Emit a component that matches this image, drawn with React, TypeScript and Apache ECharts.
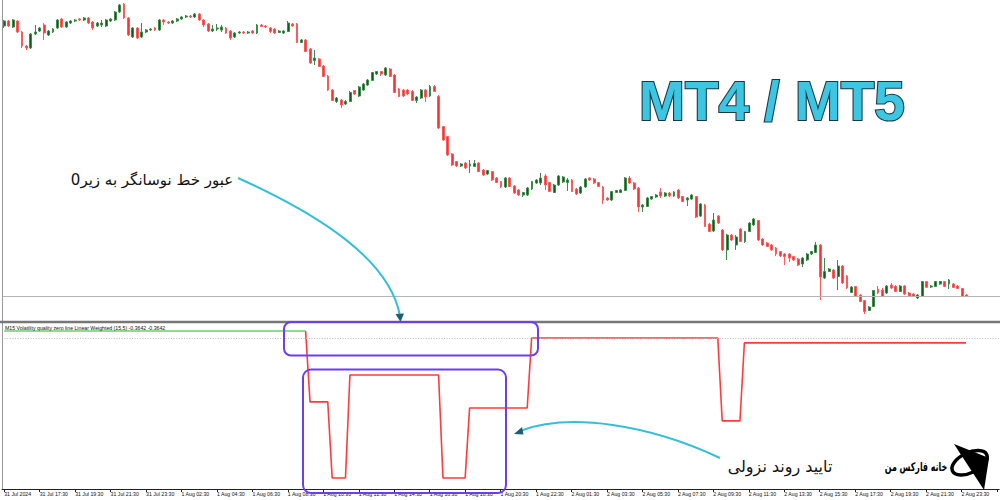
import React, { useEffect, useRef } from "react";
import * as echarts from "echarts";

// ---------- DATA (M15 candles) ----------
const opens = [
  294, 299, 293, 299, 288, 274, 272, 286, 289, 295, 285, 288, 292, 301, 293, 297, 299, 301, 300, 302,
  298, 294, 295, 294, 299, 300, 308, 316, 302, 283, 292, 283, 288, 290, 292, 290, 300, 298, 297, 299,
  301, 303, 304, 303, 306, 300, 296, 289, 291, 290, 292, 289, 283, 287, 288, 287, 289, 287, 295, 294,
  292, 291, 287.5, 287, 288.5, 296, 296, 277.5, 280, 271, 259.5, 261, 254, 244, 230, 218.5, 220, 216, 218.5, 229.5,
  224, 230, 235, 239.5, 246, 248.5, 245, 251, 245, 231, 230, 230, 228.5, 219.5, 222, 230, 224, 233.5, 223.5, 193.5,
  183.5, 166, 158.5, 154, 157, 154, 153.5, 157, 150, 146, 148.5, 142, 138.5, 133, 142, 134, 130, 125, 125, 131,
  137, 137, 144, 137.5, 127.5, 135, 138, 137.5, 140, 131, 127, 133, 142, 141, 137.5, 133, 122, 120, 127.5, 127.5,
  129.5, 142, 137, 132, 113, 113.5, 121, 123, 128, 124, 127, 124, 130, 123.5, 120, 121, 123.5, 104, 115, 96,
  89, 104, 90, 70, 85, 75, 91, 78.5, 88.5, 95, 99.5, 81, 77, 75, 72, 68.5, 66, 66, 63.5, 61,
  56, 60, 66, 67.5, 75, 42, 48.5, 50, 43.5, 54, 44, 27.5, 33.5, 25, 19.5, 9.5, 13.5, 31, 30, 27,
  35, 33.5, 28.5, 34, 27, 26, 22, 24, 38.5, 33, 33.5, 36, 38.5, 36, 36, 34, 31.5, 25
];
const closes = [
  299, 294, 300, 288, 274, 272, 286, 288, 292, 287, 289, 291, 300, 293, 298, 299, 300, 300, 302, 297,
  292, 297, 297, 300, 301, 308, 315, 302, 285, 292, 282, 288, 290, 291, 290, 300, 298, 297, 299, 301,
  303, 304, 303, 306, 300, 295, 289, 291, 292, 293, 287, 282, 287, 288, 287, 288, 287, 295, 293.5, 293,
  288.5, 287, 289, 289, 297, 294, 277.5, 280, 268.5, 257, 262, 253.5, 243.5, 230, 219.5, 222, 215, 218.5, 227.5, 226,
  233, 236, 240, 247.5, 248.5, 246, 252, 243.5, 227.5, 223.5, 224, 226, 219.5, 223, 230, 223, 233.5, 228.5, 192, 180,
  165, 155, 154, 156, 152, 156, 156.5, 148.5, 145, 149.5, 140, 137.5, 133, 142, 133.5, 127, 125, 127.5, 132, 138.5,
  140, 142, 135, 128.5, 135, 144, 143, 140, 128.5, 126, 133, 141, 140, 137, 133.5, 120, 120, 128.5, 129.5, 130,
  142, 137, 131, 113, 115, 122, 123.5, 125, 124, 127, 124, 128, 122, 118.5, 122, 125, 103, 116, 93.5, 88.5,
  100, 97, 70, 85, 80, 83, 78.5, 88.5, 97, 101, 80, 75, 73.5, 70, 66, 64, 63.5, 62, 60, 55,
  62, 66, 68.5, 75, 43, 48.5, 51, 42, 54, 37, 32, 33, 23.5, 18.5, 8.5, 13, 29.5, 27, 23.5, 34,
  32, 28.5, 34, 26, 24, 23.5, 25, 38.5, 32.7, 34, 38.5, 38.5, 33.5, 40, 32.5, 31.5, 23.5, 23.5
];
const lows = [
  292, 293, 292, 287, 272, 270, 271, 285, 288, 280, 284, 287, 291, 292, 292, 296, 298, 299, 299, 296,
  290, 293, 293, 293, 298, 299, 307, 301, 284, 282, 281, 282, 287, 289, 289, 289, 295, 296, 296, 298,
  300, 302, 302, 302, 299, 293, 288, 288, 289, 288, 286, 280, 282, 286, 286, 286, 286, 286, 293, 292,
  287, 286, 287, 286, 288, 293, 277, 277, 268, 256, 255, 253, 243, 229, 219, 217, 212, 215, 218, 225,
  223, 229, 234, 239, 245, 244, 244, 243, 227, 223, 223, 225, 219, 217, 221, 218, 223, 228, 191, 179,
  164, 154, 153, 153, 151, 147, 153, 148, 144, 145, 139, 137, 132, 132, 133, 126, 124, 123, 124, 130,
  136, 135, 130, 128, 127, 134, 137, 129, 128, 125, 126, 132, 139, 136, 133, 116, 119, 119, 127, 127,
  129, 136, 130, 108, 108, 113, 120, 122, 122, 123, 123, 123, 121, 118, 114, 120, 102, 103, 93, 88,
  88, 96, 69, 60, 79, 70, 78, 77, 88, 94, 79, 74, 73, 69, 64, 63, 55, 58, 59, 54,
  53, 59, 65, 67, 20, 41, 48, 41, 30, 36, 31, 27, 23, 18, 6, 9, 13, 26, 23, 26,
  31, 28, 28, 25, 23, 23, 21, 23, 32, 32, 33, 35, 33, 31, 32, 31, 23, 23
];
const highs = [
  300, 300, 301, 300, 289, 275, 287, 295, 293, 297, 290, 292, 301, 302, 299, 300, 301, 302, 303, 303,
  299, 298, 300, 301, 302, 309, 316, 317, 303, 293, 293, 297, 291, 292, 293, 301, 301, 299, 300, 302,
  304, 305, 305, 307, 307, 301, 297, 295, 296, 295, 293, 290, 288, 289, 289, 289, 290, 296, 296, 295,
  293, 292, 290, 290, 299, 297, 297, 281, 281, 272, 270, 262, 255, 245, 231, 223, 221, 220, 229, 230,
  234, 237, 241, 248, 249, 249, 253, 252, 246, 232, 231, 231, 230, 224, 231, 231, 235, 235, 225, 194,
  184, 167, 159, 157, 158, 160, 160, 158, 151, 150, 149, 143, 139, 143, 143, 135, 131, 128, 133, 139,
  141, 147, 146, 138, 136, 145, 144, 142, 141, 132, 134, 142, 143, 142, 138, 134, 123, 129, 130, 131,
  143, 144, 138, 133, 116, 123, 124, 126, 132, 128, 128, 129, 131, 124, 123, 126, 124, 117, 116, 97,
  107, 105, 91, 86, 86, 85, 92, 89, 98, 102, 100, 82, 78, 76, 73, 69, 67, 67, 64, 62,
  63, 67, 69, 78, 76, 62, 52, 51, 60, 55, 45, 34, 34, 26, 20, 14, 30, 34, 32, 35,
  37, 35, 35, 35, 28, 27, 26, 39, 39, 35, 39, 39, 39, 41, 37, 35, 32, 26
];

// Volatility Quality (zero line, LWMA 15,5) values, one per candle
const vqValues = [
  0.51, 0.51, 0.51, 0.51, 0.51, 0.51, 0.51, 0.51, 0.51, 0.51, 0.51, 0.51, 0.51, 0.51, 0.51, 0.51, 0.51, 0.51, 0.51, 0.51,
  0.51, 0.51, 0.51, 0.51, 0.51, 0.51, 0.51, 0.51, 0.51, 0.51, 0.51, 0.51, 0.51, 0.51, 0.51, 0.51, 0.51, 0.51, 0.51, 0.51,
  0.51, 0.51, 0.51, 0.51, 0.51, 0.51, 0.51, 0.51, 0.51, 0.51, 0.51, 0.51, 0.51, 0.51, 0.51, 0.51, 0.51, 0.51, 0.51, 0.51,
  0.51, 0.51, 0.51, 0.51, 0.51, 0.51, 0.51, 0.51, 0.51, -4.68, -4.68, -4.68, -4.68, -4.68, -10.24, -10.24, -10.24, -10.24, -2.71, -2.71,
  -2.71, -2.71, -2.71, -2.71, -2.71, -2.71, -2.71, -2.71, -2.71, -2.71, -2.71, -2.71, -2.71, -2.71, -2.71, -2.71, -2.71, -2.71, -2.71, -10.24,
  -10.24, -10.24, -10.24, -10.24, -10.24, -5.12, -5.12, -5.12, -5.12, -5.12, -5.12, -5.12, -5.12, -5.12, -5.12, -5.12, -5.12, -5.12, -5.12, 0,
  0, 0, 0, 0, 0, 0, 0, 0, 0, 0, 0, 0, 0, 0, 0, 0, 0, 0, 0, 0,
  0, 0, 0, 0, 0, 0, 0, 0, 0, 0, 0, 0, 0, 0, 0, 0, 0, 0, 0, 0,
  0, 0, -6.07, -6.07, -6.07, -6.07, -6.07, -0.3642, -0.3642, -0.3642, -0.3642, -0.3642, -0.3642, -0.3642, -0.3642, -0.3642, -0.3642, -0.3642, -0.3642, -0.3642,
  -0.3642, -0.3642, -0.3642, -0.3642, -0.3642, -0.3642, -0.3642, -0.3642, -0.3642, -0.3642, -0.3642, -0.3642, -0.3642, -0.3642, -0.3642, -0.3642, -0.3642, -0.3642, -0.3642, -0.3642,
  -0.3642, -0.3642, -0.3642, -0.3642, -0.3642, -0.3642, -0.3642, -0.3642, -0.3642, -0.3642, -0.3642, -0.3642, -0.3642, -0.3642, -0.3642, -0.3642, -0.3642, -0.3642
];
const vqTurnIndex = 68; // last bar of the green (rising) colour

const tickLabels = [
  "31 Jul 2024", "31 Jul 17:30", "31 Jul 19:30", "31 Jul 21:30", "31 Jul 23:30",
  "1 Aug 02:30", "1 Aug 04:30", "1 Aug 06:30", "1 Aug 08:30", "1 Aug 10:30",
  "1 Aug 12:30", "1 Aug 14:30", "1 Aug 16:30", "1 Aug 18:30", "1 Aug 20:30",
  "1 Aug 22:30", "2 Aug 01:30", "2 Aug 03:30", "2 Aug 05:30", "2 Aug 07:30",
  "2 Aug 09:30", "2 Aug 11:30", "2 Aug 13:30", "2 Aug 15:30", "2 Aug 17:30",
  "2 Aug 19:30", "2 Aug 21:30", "2 Aug 23:30"
];
const barsPerLabel = 8;
const emptyBarsRight = 7;

const indicatorTitle = "M15 Volatility quality zero line Linear Weighted (15,5) -0.3642 -0.3642";
const titleBig = "MT4 / MT5";
const noteCross = "عبور خط نوسانگر به زیر0";
const noteConfirm = "تایید روند نزولی";
const brandName = "خانه فارکس من";

export default function App() {
  const ref = useRef<HTMLDivElement>(null);

  useEffect(() => {
    if (!ref.current) return;
    const chart = echarts.init(ref.current, null, { renderer: "svg" });

    const slotCount = opens.length + emptyBarsRight;
    const slots = Array.from({ length: slotCount }, (_, i) => String(i));
    const candles = opens.map((o, i) => [o, closes[i], lows[i], highs[i]]);
    const greenData = vqValues.map((v, i) => (i <= vqTurnIndex ? v : null));
    const redData = vqValues.map((v, i) => (i >= vqTurnIndex ? v : null));
    const lastClose = closes[closes.length - 1];

    const option: any = {
      animation: false,
      backgroundColor: "#ffffff",
      grid: [
        { left: 2, right: 0, top: 0, height: 321 },
        { left: 2, right: 0, top: 324, height: 165 },
      ],
      xAxis: [
        {
          type: "category", gridIndex: 0, data: slots, boundaryGap: true,
          axisLine: { show: false, onZero: false }, axisTick: { show: false }, axisLabel: { show: false },
          splitLine: { show: false },
        },
        {
          type: "category", gridIndex: 1, data: slots, boundaryGap: true, position: "bottom",
          axisLine: { show: true, onZero: false, lineStyle: { color: "#222", width: 1 } },
          axisTick: { show: true, alignWithLabel: true, interval: barsPerLabel - 1, length: 3, lineStyle: { color: "#222" } },
          axisLabel: {
            show: true, interval: barsPerLabel - 1, align: "left", margin: 2,
            fontSize: 5.2, color: "#111", fontFamily: "Liberation Sans",
            formatter: (_v: string, idx: number) => tickLabels[idx / barsPerLabel] ?? "",
          },
          splitLine: { show: false },
        },
      ],
      yAxis: [
        { type: "value", gridIndex: 0, min: -1, max: 320, show: false, splitLine: { show: false } },
        { type: "value", gridIndex: 1, min: -11.05, max: 1.02, show: false, splitLine: { show: false } },
      ],
      series: [
        {
          type: "candlestick", xAxisIndex: 0, yAxisIndex: 0, data: candles, barWidth: 2.4,
          itemStyle: {
            color: "#0b5e1a", color0: "#ff3030",
            borderColor: "#3f8a4a", borderColor0: "#ff5a5a", borderWidth: 1,
          },
          markLine: {
            silent: true, symbol: "none", label: { show: false },
            lineStyle: { color: "#b4b4b4", width: 1, type: "solid" },
            data: [{ yAxis: lastClose }],
          },
        },
        {
          type: "line", xAxisIndex: 1, yAxisIndex: 1, data: greenData, showSymbol: false,
          lineStyle: { color: "#6ccf6c", width: 1.6 }, connectNulls: false, z: 3,
        },
        {
          type: "line", xAxisIndex: 1, yAxisIndex: 1, data: redData, showSymbol: false,
          lineStyle: { color: "#ff3b3b", width: 1.6 }, connectNulls: false, z: 3,
        },
        {
          // zero level of the oscillator (dotted)
          type: "line", xAxisIndex: 1, yAxisIndex: 1, data: [], z: 1,
          markLine: {
            silent: true, symbol: "none", label: { show: false },
            lineStyle: { color: "#b8b8b8", width: 1, type: [1, 1.6] },
            data: [{ yAxis: 0 }],
          },
        },
      ],
      graphic: [
        // frame lines
        { type: "line", shape: { x1: 2.5, y1: 0, x2: 2.5, y2: 489 }, style: { stroke: "#9a9a9a", lineWidth: 1 }, z: 10 },
        { type: "line", shape: { x1: 0, y1: 322, x2: 1000, y2: 322 }, style: { stroke: "#777777", lineWidth: 2.5 }, z: 10 },
        // indicator caption
        {
          type: "text", x: 5, y: 328,
          style: { text: indicatorTitle, fill: "#111", font: "5.2px 'Liberation Sans'", textVerticalAlign: "middle" },
          z: 10,
        },
        // MT4 / MT5
        {
          type: "text", x: 772, y: 101,
          style: {
            text: titleBig, fill: "#3cc6e2", stroke: "#163848", lineWidth: 2.2,
            font: "bold 55px 'Liberation Sans'", textAlign: "center", textVerticalAlign: "middle",
          },
          z: 10,
        },
        // notes
        {
          type: "text", x: 152, y: 180,
          style: { text: noteCross, fill: "#111", font: "15px 'DejaVu Sans'", textAlign: "center", textVerticalAlign: "middle" },
          z: 10,
        },
        {
          type: "text", x: 780, y: 466,
          style: { text: noteConfirm, fill: "#111", font: "16px 'DejaVu Sans'", textAlign: "center", textVerticalAlign: "middle" },
          z: 10,
        },
        // arrows
        {
          type: "bezierCurve",
          shape: { x1: 238, y1: 178, cpx1: 320, cpy1: 215, cpx2: 390, cpy2: 260, x2: 400, y2: 316 },
          style: { stroke: "#35bfd6", lineWidth: 2, fill: "none" }, z: 10,
        },
        { type: "polygon", shape: { points: [[395.5, 314], [404, 313.5], [400.5, 322]] }, style: { fill: "#1d5f70" }, z: 11 },
        {
          type: "bezierCurve",
          shape: { x1: 720, y1: 458, cpx1: 650, cpy1: 425, cpx2: 570, cpy2: 412, x2: 520, y2: 431 },
          style: { stroke: "#35bfd6", lineWidth: 2, fill: "none" }, z: 10,
        },
        { type: "polygon", shape: { points: [[514, 434], [522, 427], [523.5, 434.5]] }, style: { fill: "#1d5f70" }, z: 11 },
        // purple boxes
        {
          type: "rect", shape: { x: 284, y: 322, width: 254, height: 33.5, r: 7 },
          style: { fill: "none", stroke: "#6b3ff0", lineWidth: 2 }, z: 12,
        },
        {
          type: "rect", shape: { x: 303, y: 369.5, width: 203, height: 123.5, r: 8 },
          style: { fill: "none", stroke: "#6b3ff0", lineWidth: 2 }, z: 12,
        },
        // brand logo
        {
          type: "ellipse", shape: { cx: 970, cy: 463, rx: 19, ry: 10 }, rotation: 0.45, originX: 970, originY: 463,
          style: { fill: "none", stroke: "#000", lineWidth: 3.5 }, z: 10,
        },
        { type: "polygon", shape: { points: [[954, 444], [989, 458], [984, 490]] }, style: { fill: "#000" }, z: 10 },
        {
          type: "text", x: 916, y: 467, scaleX: 0.66,
          style: { text: brandName, fill: "#000", font: "bold 12px 'DejaVu Sans'", textAlign: "center", textVerticalAlign: "middle" },
          z: 10,
        },
      ],
    };

    chart.setOption(option);
    return () => chart.dispose();
  }, []);

  return (
    <div
      ref={ref}
      style={{ position: "fixed", left: 0, top: 0, width: 1000, height: 500, background: "#fff" }}
    />
  );
}
